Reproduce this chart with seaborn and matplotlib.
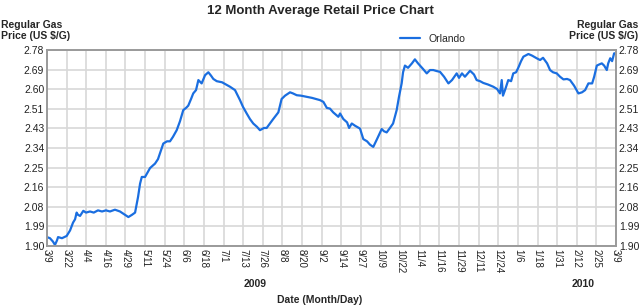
import numpy as np
import pandas as pd
import seaborn as sns
import matplotlib.pyplot as plt

# days since 2009-03-09 and Orlando regular gas price ($/gal)
days = [0, 1.9, 3.8, 5.1, 6.4, 7.1, 9.6, 12.6, 14.8, 16.7, 18, 19, 19.9, 21.2, 23.3,
        25, 27.6, 30, 32.7, 35.3, 37.8, 40.4, 43.6, 46.8, 50, 52.2, 54.5, 56.5, 58.4,
        59.7, 60.8, 62.9, 66.1, 69.3, 71.2, 74.6, 77, 78.9, 80.8, 83.2, 85.3, 87.4,
        89.2, 90.6, 92.4, 93.8, 95.6, 97.1, 99.2, 101.4, 103.5, 105.2, 106.7, 108.9,
        112.3, 114.8, 117.4, 120.6, 123.8, 125.7, 128.1, 130.2, 132.3, 134.7, 136.6,
        139.2, 140.9, 143, 145.1, 148.4, 150.5, 152.7, 155.9, 157.8, 160.2, 162.9,
        166.6, 170, 172.6, 175.1, 177.3, 179.5, 181.5, 183.6, 186.9, 188, 190.1,
        192.5, 193.8, 195.5, 197.6, 200.8, 202.9, 205.3, 207.2, 209.3, 211.7, 214.7,
        216.2, 217.9, 220, 222, 224.3, 225.8, 227.5, 228.4, 229.6, 231.6, 234.1, 236,
        238, 239.3, 241.2, 243.6, 245.7, 247.8, 250.2, 252.1, 254.7, 257.5, 259.8,
        262.8, 264.3, 266.2, 268.1, 271.4, 273.9, 275.6, 277.8, 279.9, 282.9, 286.3,
        288.7, 290.6, 291.7, 292.5, 293.8, 295.9, 297.7, 299.1, 300.9, 302.3, 304.1,
        305.6, 308.8, 311.1, 314.1, 316.3, 318.2, 320.8, 322.7, 324.6, 327, 329.1,
        331.3, 333.6, 335.5, 338.1, 340.9, 343.2, 345.2, 347.3, 349.7, 351, 352.7,
        354.2, 355.9, 357.4, 359.1, 360, 361.3, 362.5, 363.8, 365]
price = [1.94, 1.935, 1.92, 1.905, 1.925, 1.94, 1.935, 1.945, 1.97, 2.005, 2.02, 2.05,
         2.04, 2.035, 2.058, 2.05, 2.055, 2.05, 2.06, 2.055, 2.06, 2.055, 2.063, 2.055,
         2.04, 2.03, 2.04, 2.05, 2.12, 2.18, 2.21, 2.21, 2.25, 2.27, 2.29, 2.36, 2.37,
         2.37, 2.39, 2.42, 2.46, 2.51, 2.52, 2.53, 2.56, 2.585, 2.60, 2.645, 2.63,
         2.667, 2.68, 2.665, 2.65, 2.64, 2.635, 2.625, 2.615, 2.60, 2.555, 2.525,
         2.495, 2.47, 2.45, 2.435, 2.42, 2.43, 2.43, 2.45, 2.47, 2.50, 2.56, 2.575,
         2.59, 2.585, 2.577, 2.575, 2.57, 2.565, 2.56, 2.555, 2.547, 2.52, 2.517,
         2.50, 2.48, 2.495, 2.47, 2.455, 2.43, 2.45, 2.44, 2.427, 2.38, 2.37, 2.355,
         2.345, 2.38, 2.425, 2.415, 2.41, 2.43, 2.45, 2.51, 2.57, 2.63, 2.68, 2.71,
         2.70, 2.72, 2.738, 2.72, 2.71, 2.695, 2.675, 2.69, 2.69, 2.685, 2.682, 2.66,
         2.63, 2.645, 2.675, 2.655, 2.675, 2.66, 2.687, 2.67, 2.645, 2.64, 2.632,
         2.625, 2.615, 2.605, 2.585, 2.645, 2.575, 2.60, 2.645, 2.64, 2.675, 2.68,
         2.70, 2.73, 2.75, 2.762, 2.755, 2.743, 2.735, 2.745, 2.72, 2.69, 2.68, 2.675,
         2.66, 2.648, 2.65, 2.645, 2.62, 2.585, 2.59, 2.60, 2.63, 2.63, 2.66, 2.71,
         2.715, 2.72, 2.71, 2.69, 2.72, 2.743, 2.73, 2.765, 2.765]

x_labels = ['3/9', '3/22', '4/4', '4/16', '4/29', '5/11', '5/24', '6/6', '6/18', '7/1',
            '7/13', '7/26', '8/8', '8/20', '9/2', '9/14', '9/27', '10/9', '10/22',
            '11/4', '11/16', '11/29', '12/11', '12/24', '1/6', '1/18', '1/31', '2/12',
            '2/25', '3/9']
y_labels = ['1.90', '1.99', '2.08', '2.16', '2.25', '2.34', '2.43', '2.51', '2.60',
            '2.69', '2.78']

df = pd.DataFrame({'day': days, 'price': price, 'city': 'Orlando'})

sns.set_style('white')
plt.rcParams['font.family'] = ['Liberation Sans', 'DejaVu Sans']

fig = plt.figure(figsize=(6.4, 3.06), dpi=100)
ax = fig.add_axes([47/640, 1 - 246/306, 569/640, 196/306])

sns.lineplot(data=df, x='day', y='price', hue='city', palette=['#1a6ee0'],
             linewidth=1.6, ax=ax)

xt = np.linspace(0, 365, len(x_labels))
yt = np.linspace(1.90, 2.78, len(y_labels))
ax.set_xlim(0, 365)
ax.set_ylim(1.90, 2.78)
ax.set_xticks(xt)
ax.set_xticklabels(x_labels, rotation=-90, fontsize=7)
ax.set_yticks(yt)
ax.set_yticklabels(y_labels, fontsize=7.5)
ax.grid(True, color='#d8d8d8', linewidth=1.2)
ax.tick_params(length=0, pad=2, colors='#222222')
ax.set_xlabel('')
ax.set_ylabel('')
for s in ax.spines.values():
    s.set_color('#9a9a9a')
    s.set_linewidth(1.2)

ax2 = ax.twinx()
ax2.set_ylim(1.90, 2.78)
ax2.set_yticks(yt)
ax2.set_yticklabels(y_labels, fontsize=7.5)
ax2.tick_params(length=0, pad=2, colors='#222222')
for s in ax2.spines.values():
    s.set_color('#9a9a9a')
    s.set_linewidth(1.2)

leg = ax.legend(loc='lower left', bbox_to_anchor=(347/569, 1.0), frameon=False,
                fontsize=7.5, handlelength=1.9, borderpad=0.1)

fig.text(0.5, 0.985, '12 Month Average Retail Price Chart', ha='center', va='top',
         fontsize=9.5, fontweight='bold')
fig.text(0.002, 0.935, 'Regular Gas\nPrice (US $/G)', ha='left', va='top',
         fontsize=7.5, fontweight='bold', linespacing=1.1)
fig.text(0.997, 0.935, 'Regular Gas\nPrice (US $/G)', ha='right', va='top',
         fontsize=7.5, fontweight='bold', linespacing=1.1)
fig.text(255/640, 1 - 284/306, '2009', ha='center', va='center', fontsize=7.5,
         fontweight='bold')
fig.text(583/640, 1 - 284/306, '2010', ha='center', va='center', fontsize=7.5,
         fontweight='bold')
fig.text(320/640, 1 - 300/306, 'Date (Month/Day)', ha='center', va='center',
         fontsize=7.5, fontweight='bold')

fig.savefig('out.png', dpi=100)
